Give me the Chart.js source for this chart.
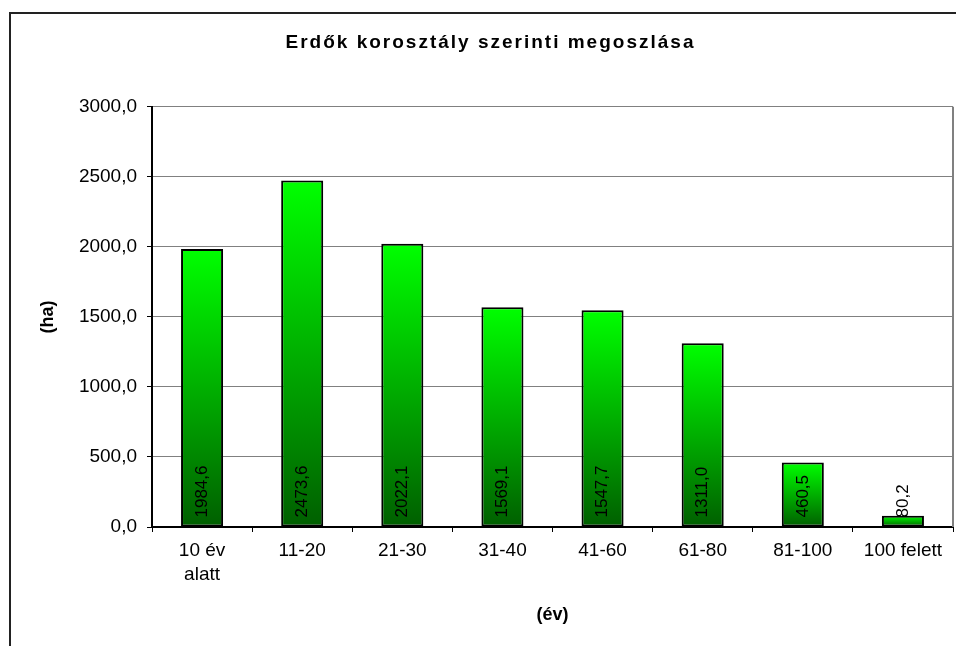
<!DOCTYPE html>
<html lang="hu">
<head>
<meta charset="utf-8">
<title>Erdők korosztály szerinti megoszlása</title>
<script src="https://cdn.jsdelivr.net/npm/chart.js@4"></script>
<style>
  html, body { margin: 0; padding: 0; background: #fff; }
  #wrap { width: 956px; height: 646px; position: relative; }
</style>
</head>
<body>
<div id="wrap"><canvas id="age-chart"></canvas></div>
<script>
const categories = [["10 év", "alatt"], "11-20", "21-30", "31-40", "41-60", "61-80", "81-100", "100 felett"];
const areaHa = [1984.6, 2473.6, 2022.1, 1569.1, 1547.7, 1311.0, 460.5, 80.2];
const yTicks = [0, 500, 1000, 1500, 2000, 2500, 3000];

const fontFamily = "'Liberation Sans', Arial, sans-serif";

function huNumber(v) {
  return Number(v).toFixed(1).replace(".", ",");
}

function barGradient(context) {
  const chart = context.chart;
  const y = chart.scales.y;
  if (!chart.chartArea || !y || context.raw === undefined) return "#00cc00";
  const top = y.getPixelForValue(context.raw);
  const base = y.getPixelForValue(0);
  if (!isFinite(top) || !isFinite(base) || top === base) return "#00cc00";
  const g = chart.ctx.createLinearGradient(0, top, 0, base);
  g.addColorStop(0, "#00ff00");
  g.addColorStop(1, "#005f00");
  return g;
}

// outer frame and the grey right edge of the plot area
const framePlugin = {
  id: "frame",
  beforeDraw(chart) {
    const c = chart.ctx;
    c.save();
    c.strokeStyle = "#222";
    c.lineWidth = 2;
    c.strokeRect(10, 13, chart.width + 20, chart.height + 20);
    c.restore();
  },
  beforeDatasetsDraw(chart) {
    const c = chart.ctx;
    const a = chart.chartArea;
    c.save();
    c.strokeStyle = "#808080";
    c.lineWidth = 2;
    c.beginPath();
    c.moveTo(a.right, a.top);
    c.lineTo(a.right, a.bottom);
    c.stroke();
    c.restore();
  },
  afterLayout(chart) {
    const tb = chart.titleBlock;
    if (tb && !tb._spaced) {
      const orig = tb.draw;
      tb.draw = function (...args) {
        const c = this.ctx;
        c.save();
        c.letterSpacing = "2px";
        c.translate(14, 0);
        orig.apply(this, args);
        c.restore();
      };
      tb._spaced = true;
    }
  },
};

// rotated value labels at the foot of each bar
const barLabelPlugin = {
  id: "barLabels",
  afterDatasetsDraw(chart) {
    const c = chart.ctx;
    const meta = chart.getDatasetMeta(0);
    c.save();
    c.font = "17px " + fontFamily;
    c.fillStyle = "#000";
    c.textAlign = "left";
    c.textBaseline = "middle";
    meta.data.forEach((bar, i) => {
      c.save();
      c.translate(bar.x, bar.base - 9);
      c.rotate(-Math.PI / 2);
      c.fillText(huNumber(areaHa[i]), 0, 0);
      c.restore();
    });
    c.restore();
  },
};

new Chart(document.getElementById("age-chart"), {
  type: "bar",
  data: {
    labels: categories,
    datasets: [
      {
        data: areaHa,
        backgroundColor: barGradient,
        borderColor: "#000",
        borderWidth: 2,
        borderSkipped: false,
        categoryPercentage: 1,
        barPercentage: 0.42,
      },
    ],
  },
  options: {
    responsive: true,
    maintainAspectRatio: false,
    animation: false,
    layout: { padding: { left: 0, right: 3, top: 0, bottom: 0 } },
    plugins: {
      legend: { display: false },
      tooltip: { enabled: false },
      title: {
        display: true,
        text: "Erdők korosztály szerinti megoszlása",
        color: "#000",
        font: { family: fontFamily, size: 19, weight: "bold", lineHeight: 1.2 },
        padding: { top: 31, bottom: 53 },
      },
    },
    scales: {
      x: {
        grid: {
          offset: true,
          drawOnChartArea: false,
          tickLength: 5,
          tickColor: "#000",
          tickWidth: 1,
        },
        border: { color: "#000", width: 2 },
        ticks: {
          color: "#000",
          padding: 7,
          maxRotation: 0,
          font: { family: fontFamily, size: 19, lineHeight: 1.26 },
        },
        title: {
          display: true,
          text: "(év)",
          color: "#000",
          font: { family: fontFamily, size: 18, weight: "bold", lineHeight: 1.2 },
          padding: { top: 0, bottom: 20 },
        },
        afterFit(scale) {
          scale.height = 119;
        },
      },
      y: {
        min: 0,
        max: 3000,
        grid: {
          color: "#808080",
          lineWidth: 1,
          tickLength: 5,
          tickColor: "#000",
        },
        border: { color: "#000", width: 2 },
        afterBuildTicks(scale) {
          scale.ticks = yTicks.map((v) => ({ value: v }));
        },
        ticks: {
          color: "#000",
          padding: 10,
          font: { family: fontFamily, size: 19 },
          callback: (v) => huNumber(v),
        },
        title: {
          display: true,
          text: "(ha)",
          color: "#000",
          font: { family: fontFamily, size: 18, weight: "bold", lineHeight: 1.2 },
          padding: { top: 37, bottom: 0 },
        },
        afterFit(scale) {
          scale.width = 152;
        },
      },
    },
  },
  plugins: [framePlugin, barLabelPlugin],
});
</script>
</body>
</html>
